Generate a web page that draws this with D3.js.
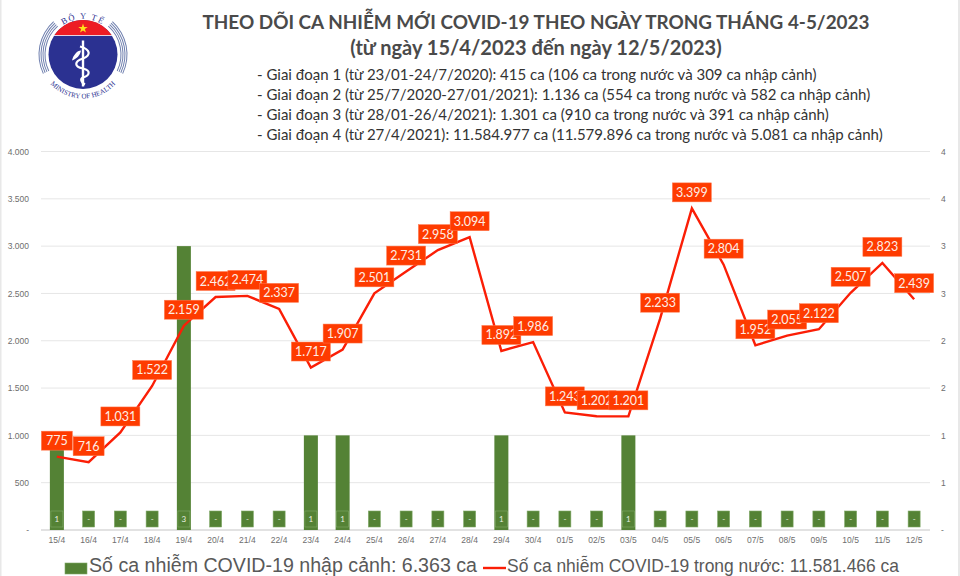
<!DOCTYPE html>
<html>
<head>
<meta charset="utf-8">
<script src="https://cdn.jsdelivr.net/npm/d3@7"></script>
<style>
html, body { margin: 0; padding: 0; background: #fff; }
svg { display: block; }
</style>
</head>
<body>
<svg id="chart" width="960" height="576"></svg>
<script>
// values
var dates = ["15/4","16/4","17/4","18/4","19/4","20/4","21/4","22/4","23/4","24/4","25/4","26/4","27/4","28/4","29/4","30/4",
    "01/5","02/5","03/5","04/5","05/5","06/5","07/5","08/5","09/5","10/5","11/5","12/5"];
var domestic = [775,716,1031,1522,2159,2462,2474,2337,1717,1907,2501,2731,2958,3094,1892,1986,1243,1202,1201,2233,3399,2804,1952,2055,2122,2507,2823,2439];
var imported = [1,0,0,0,3,0,0,0,1,1,0,0,0,0,1,0,0,0,1,0,0,0,0,0,0,0,0,0];
var leftTicks = [0,500,1000,1500,2000,2500,3000,3500,4000];
var rightTicks = [0,0.5,1,1.5,2,2.5,3,3.5,4];
var titleLines = ["THEO DÕI CA NHIỄM MỚI COVID-19 THEO NGÀY TRONG THÁNG 4-5/2023", "(từ ngày 15/4/2023 đến ngày 12/5/2023)"];
var periods = [
    "- Giai đoạn 1 (từ 23/01-24/7/2020): 415 ca (106 ca trong nước và 309 ca nhập cảnh)",
    "- Giai đoạn 2 (từ 25/7/2020-27/01/2021): 1.136 ca (554 ca trong nước và 582 ca nhập cảnh)",
    "- Giai đoạn 3 (từ 28/01-26/4/2021): 1.301 ca (910 ca trong nước và 391 ca nhập cảnh)",
    "- Giai đoạn 4 (từ 27/4/2021): 11.584.977 ca (11.579.896 ca trong nước và 5.081 ca nhập cảnh)"
];
var legendBar = "Số ca nhiễm COVID-19 nhập cảnh: 6.363 ca";
var legendLine = "Số ca nhiễm COVID-19 trong nước: 11.581.466 ca";

var svg = d3.select("#chart");
var labelFont = "Lato, 'Open Sans', sans-serif";
var axisFont = "'Liberation Sans', Arial, sans-serif";

// faint frame of the original image
svg.append("rect").attr("x", 0).attr("y", 0).attr("width", 1.5).attr("height", 576).attr("fill", "#e8e8e8");
svg.append("rect").attr("x", 958).attr("y", 0).attr("width", 2).attr("height", 576).attr("fill", "#e8e8e8");

// header
svg.selectAll(".title").data(titleLines).enter().append("text")
    .attr("class", "title")
    .attr("x", 536)
    .attr("y", function(d, i) { return 28.5 + i * 26.5; })
    .attr("text-anchor", "middle")
    .attr("font-family", labelFont)
    .attr("font-weight", 700)
    .attr("font-size", function(d, i) { return i == 0 ? 18.9 : 20; })
    .attr("fill", "#4a4a4a")
    .text(function(d) { return d; });

svg.selectAll(".period").data(periods).enter().append("text")
    .attr("class", "period")
    .attr("x", 257)
    .attr("y", function(d, i) { return 80 + i * 20; })
    .attr("font-family", labelFont)
    .attr("font-size", 15)
    .attr("fill", "#333")
    .text(function(d) { return d; });

// scales
var x = d3.scaleBand().domain(dates).range([41, 930]);
var y = d3.scaleLinear().domain([0, 4000]).range([530, 151.5]);
var y2 = d3.scaleLinear().domain([0, 4]).range([530, 151.5]);
var mid = function(d) { return x(d) + x.bandwidth() / 2; };

// gridlines
svg.selectAll(".grid").data(leftTicks).enter().append("line")
    .attr("class", "grid")
    .attr("x1", 41).attr("x2", 930)
    .attr("y1", function(d) { return y(d); })
    .attr("y2", function(d) { return y(d); })
    .attr("stroke", function(d) { return d == 0 ? "#d9d9d9" : "#e6e6e6"; })
    .attr("stroke-width", function(d) { return d == 0 ? 1.5 : 1; });

// axes
var fmt = function(d) { return d == 0 ? "-" : d3.format(",")(d).replace(/,/g, "."); };
var gLeft = svg.append("g").attr("transform", "translate(36,0)")
    .call(d3.axisLeft(y).tickValues(leftTicks).tickSize(0).tickPadding(7).tickFormat(fmt));
var gRight = svg.append("g").attr("transform", "translate(936,0)")
    .call(d3.axisRight(y2).tickValues(rightTicks).tickSize(0).tickPadding(5)
        .tickFormat(function(d) { return d == 0 ? "-" : Math.round(d); }));
var gBottom = svg.append("g").attr("transform", "translate(0,530)")
    .call(d3.axisBottom(x).tickSize(0).tickPadding(6.5));
[gLeft, gRight, gBottom].forEach(function(g) {
    g.select(".domain").remove();
    g.selectAll("text").attr("font-family", axisFont).attr("font-size", 8.5).attr("fill", "#6e6e6e");
});

// imported cases: bars on the right axis
var barData = dates.map(function(d, i) { return { date: d, value: imported[i] }; });
svg.selectAll(".bar").data(barData).enter().append("rect")
    .attr("class", "bar")
    .attr("x", function(d) { return mid(d.date) - 7; })
    .attr("width", 14)
    .attr("y", function(d) { return y2(d.value); })
    .attr("height", function(d) { return 530 - y2(d.value); })
    .attr("fill", "#548235");
svg.selectAll(".barLabel").data(barData).enter().append("rect")
    .attr("class", "barLabel")
    .attr("x", function(d) { return mid(d.date) - 6; })
    .attr("y", 511)
    .attr("width", 12)
    .attr("height", 16)
    .attr("fill", "#548235")
    .attr("stroke", "#7fa866")
    .attr("stroke-width", 0.6);
svg.selectAll(".barText").data(barData).enter().append("text")
    .attr("class", "barText")
    .attr("x", function(d) { return mid(d.date); })
    .attr("y", 522)
    .attr("text-anchor", "middle")
    .attr("font-family", labelFont)
    .attr("font-size", 8)
    .attr("fill", "#e8efe2")
    .text(function(d) { return d.value == 0 ? "-" : d.value; });

// domestic cases: line on the left axis
var lineData = dates.map(function(d, i) { return { date: d, value: domestic[i] }; });
var line = d3.line()
    .x(function(d) { return mid(d.date); })
    .y(function(d) { return y(d.value); });
svg.append("path").datum(lineData)
    .attr("d", line)
    .attr("fill", "none")
    .attr("stroke", "#fb1e06")
    .attr("stroke-width", 2.4)
    .attr("stroke-linejoin", "miter");

// red labels, later ones painted over earlier ones like in the original
var labels = svg.selectAll(".pointLabel").data(lineData).enter().append("g")
    .attr("class", "pointLabel")
    .attr("transform", function(d) { return "translate(" + mid(d.date) + "," + (y(d.value) - 16) + ")"; });
labels.append("rect")
    .attr("x", function(d) { return d.value < 1000 ? -15.5 : -19.5; })
    .attr("y", -9.5)
    .attr("width", function(d) { return d.value < 1000 ? 31 : 39; })
    .attr("height", 19)
    .attr("fill", "#fe3b00")
    .attr("stroke", "#ff7a50")
    .attr("stroke-width", 0.5);
labels.append("text")
    .attr("y", 4.5)
    .attr("text-anchor", "middle")
    .attr("font-family", labelFont)
    .attr("font-size", 12.5)
    .attr("fill", "#fdeee6")
    .text(function(d) { return fmt(d.value); });

// legend, squeezed to the widths of the original
svg.append("rect").attr("x", 65).attr("y", 563).attr("width", 22).attr("height", 11)
    .attr("fill", "#548235").attr("stroke", "#7fa866").attr("stroke-width", 0.6);
svg.append("text").attr("x", 89).attr("y", 571.5)
    .attr("font-family", axisFont).attr("font-size", 19.6).attr("fill", "#595959")
    .attr("textLength", 388).attr("lengthAdjust", "spacingAndGlyphs").text(legendBar);
svg.append("line").attr("x1", 483).attr("x2", 506).attr("y1", 568).attr("y2", 568)
    .attr("stroke", "#fb1e06").attr("stroke-width", 2.4);
svg.append("text").attr("x", 507).attr("y", 571.5)
    .attr("font-family", axisFont).attr("font-size", 19).attr("fill", "#595959")
    .attr("textLength", 392).attr("lengthAdjust", "spacingAndGlyphs").text(legendLine);

// ministry logo
var logo = svg.append("g").attr("transform", "translate(83,54.5)");
var arcGen = d3.arc();
[37.5, 39.5, 41.5, 43.5].forEach(function(r) {
    [[-2.02, -0.73], [0.73, 2.02]].forEach(function(a) {
        logo.append("path")
            .attr("d", arcGen({ innerRadius: r, outerRadius: r + 1, startAngle: a[0], endAngle: a[1] }))
            .attr("fill", "#6f7fae");
    });
});
logo.append("circle").attr("r", 34.5).attr("fill", "#2b3191");
logo.append("path").attr("d", "M-28.8,-19 A34.5,34.5 0 0 1 28.8,-19 Z").attr("fill", "#ed1c24");
logo.append("line").attr("x1", -29).attr("x2", 29).attr("y1", -19).attr("y2", -19).attr("stroke", "#fff").attr("stroke-width", 0.8);
logo.append("path")
    .attr("d", d3.symbol().type(d3.symbolStar).size(28)())
    .attr("transform", "translate(0,-26)")
    .attr("fill", "#ffe01a");
logo.append("line").attr("x1", 0).attr("x2", 0).attr("y1", -14).attr("y2", 32).attr("stroke", "#fff").attr("stroke-width", 2.4);
logo.append("path")
    .attr("d", "M-3,-8 C8,-5 8,1 0,4 C-9,7 -9,12 0,14 C8,16 7,21 0,23 C-3,24 -2,28 2,30")
    .attr("fill", "none").attr("stroke", "#fff").attr("stroke-width", 2.2);
logo.append("path").attr("d", "M-11,6 C-10,1 -6,-4 -2,-4 C-3,1 -6,4 -11,6 Z").attr("fill", "#fff");
logo.append("path").attr("id", "arcTop").attr("d", "M-33,-14 A36,36 0 0 1 33,-14").attr("fill", "none");
logo.append("path").attr("id", "arcBottom").attr("d", "M-40,18.3 A44,44 0 0 0 40,18.3").attr("fill", "none");
logo.append("text").attr("font-family", "'Liberation Serif', serif").attr("font-size", 8.5).attr("letter-spacing", 1.5).attr("fill", "#2b3191")
    .append("textPath").attr("href", "#arcTop").attr("startOffset", "50%").attr("text-anchor", "middle").text("BỘ Y TẾ");
logo.append("text").attr("font-family", "'Liberation Serif', serif").attr("font-size", 7).attr("fill", "#2b3191")
    .append("textPath").attr("href", "#arcBottom").attr("startOffset", "50%").attr("text-anchor", "middle").text("MINISTRY OF HEALTH");
</script>
</body>
</html>
